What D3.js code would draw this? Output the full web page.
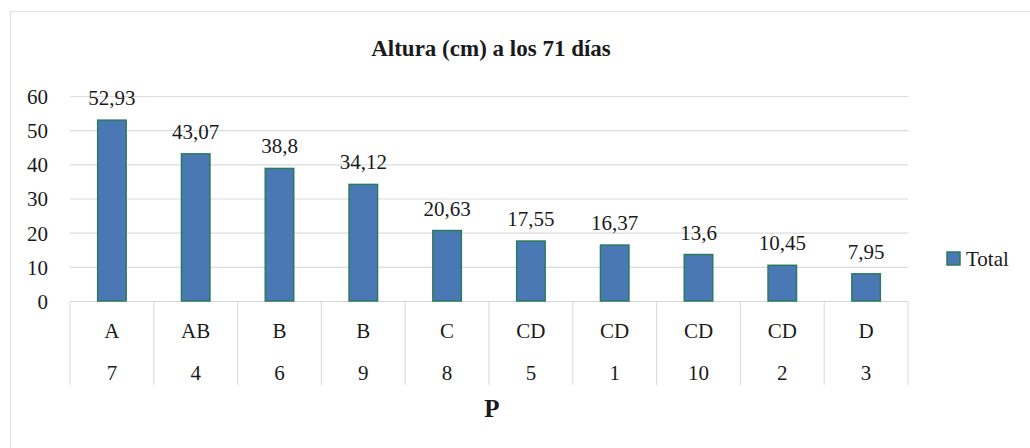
<!DOCTYPE html>
<html><head><meta charset="utf-8">
<script src="https://cdn.jsdelivr.net/npm/d3@7"></script>
<style>body{margin:0;background:#fff;} svg text{font-family:"Liberation Serif","Times New Roman",Times,"DejaVu Serif",serif !important;fill:#1a1a1a;}</style>
</head><body>
<svg id="c" width="1030" height="448" font-family="Liberation Serif, Times New Roman, Times, DejaVu Serif, serif"></svg>
<script>
const letters = ["A","AB","B","B","C","CD","CD","CD","CD","D"];
const pNums = ["7","4","6","9","8","5","1","10","2","3"];
const values = [52.93,43.07,38.8,34.12,20.63,17.55,16.37,13.6,10.45,7.95];
const valueLabels = ["52,93","43,07","38,8","34,12","20,63","17,55","16,37","13,6","10,45","7,95"];
const yTicks = [0,10,20,30,40,50,60];
const seriesName = "Total";
const title = "Altura (cm) a los 71 días";
const xTitle = "P";

const FONT = "'Liberation Serif','Times New Roman',Times,'DejaVu Serif',serif";
const svg = d3.select("#c");
const L = 70, R = 908, T = 96, B = 301;
const idx = d3.range(values.length);
const x = d3.scaleBand().domain(idx).range([L, R]).paddingInner(0.66).paddingOuter(0.33);
const xc = d3.scaleBand().domain(idx).range([L, R]);
const y = d3.scaleLinear().domain([0, 60]).range([B, T]);

// outer border
svg.append("rect").attr("x",10.5).attr("y",11.5).attr("width",1030).attr("height",450)
  .attr("fill","none").attr("stroke","#e2e2e2").attr("stroke-width",1.2);

// title
svg.append("text").attr("x",491).attr("y",56).attr("text-anchor","middle")
  .style("font-size","23px").style("font-weight","bold").text(title);

// gridlines
const yAxis = d3.axisLeft(y).tickValues(yTicks).tickSize(-(R-L)).tickPadding(22);
const gy = svg.append("g").attr("transform",`translate(${L},0)`).call(yAxis);
gy.attr("font-family", FONT);
gy.select(".domain").remove();
gy.selectAll(".tick line").attr("stroke","#dcdcdc").attr("stroke-width",1.2);
gy.selectAll(".tick text").style("font-size","21px").attr("fill","#1a1a1a").attr("dy","0.35em");

// category table lines
svg.append("line").attr("x1",L).attr("x2",R).attr("y1",B+0.5).attr("y2",B+0.5).attr("stroke","#d6d6d6").attr("stroke-width",1.2);
const seps = idx.map(i => xc(i)).concat([R]);
svg.append("g").selectAll("line").data(seps).join("line")
  .attr("x1",d=>d).attr("x2",d=>d).attr("y1",B).attr("y2",385)
  .attr("stroke","#dedede").attr("stroke-width",1.2);

// bars
svg.append("g").selectAll("rect").data(values).join("rect")
  .attr("x",(d,i)=>x(i)).attr("width",x.bandwidth())
  .attr("y",d=>y(d)).attr("height",d=>y(0)-y(d))
  .attr("fill","#4a78b4").attr("stroke","#2b7a5c").attr("stroke-width",1.5);

// value labels
svg.append("g").selectAll("text").data(values).join("text")
  .attr("x",(d,i)=>xc(i)+xc.bandwidth()/2).attr("y",d=>y(d)-15)
  .attr("text-anchor","middle").style("font-size","21px").text((d,i)=>valueLabels[i]);

// category labels
svg.append("g").selectAll("text").data(letters).join("text")
  .attr("x",(d,i)=>xc(i)+xc.bandwidth()/2).attr("y",338)
  .attr("text-anchor","middle").style("font-size","21px").text(d=>d);
svg.append("g").selectAll("text").data(pNums).join("text")
  .attr("x",(d,i)=>xc(i)+xc.bandwidth()/2).attr("y",380)
  .attr("text-anchor","middle").style("font-size","21px").text(d=>d);

// x title
svg.append("text").attr("x",492).attr("y",417).attr("text-anchor","middle")
  .style("font-size","25px").style("font-weight","bold").text(xTitle);

// legend
svg.append("rect").attr("x",947).attr("y",252).attr("width",13).attr("height",13)
  .attr("fill","#4a78b4").attr("stroke","#2b7a5c").attr("stroke-width",1.5);
svg.append("text").attr("x",966).attr("y",266).style("font-size","21px").text(seriesName);

svg.selectAll("text").style("font-family", FONT);
</script>
</body></html>
